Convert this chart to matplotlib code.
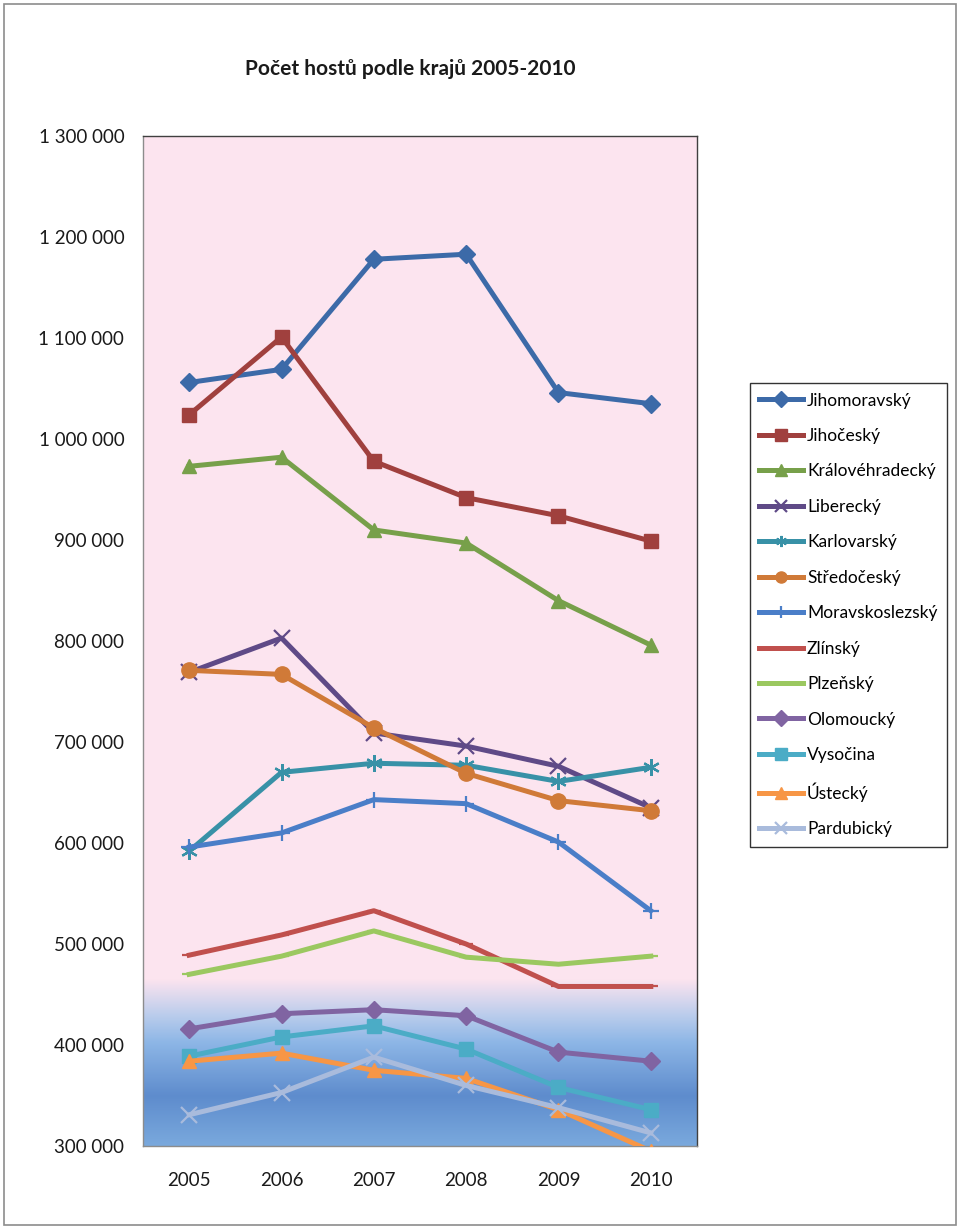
import numpy as np
import matplotlib.pyplot as plt
from matplotlib.colors import LinearSegmentedColormap
from matplotlib.patches import Rectangle
from matplotlib.ticker import FuncFormatter, MultipleLocator

plt.rcParams['font.family'] = ['Lato', 'DejaVu Sans']

# data
years = ['2005', '2006', '2007', '2008', '2009', '2010']
regions = ['Jihomoravský', 'Jihočeský', 'Královéhradecký', 'Liberecký', 'Karlovarský',
           'Středočeský', 'Moravskoslezský', 'Zlínský', 'Plzeňský', 'Olomoucký',
           'Vysočina', 'Ústecký', 'Pardubický']
jihomoravsky = [1056000, 1069000, 1178000, 1183000, 1046000, 1035000]
jihocesky = [1024000, 1101000, 978000, 942000, 924000, 899000]
kralovehradecky = [973000, 982000, 910000, 897000, 840000, 796000]
liberecky = [769000, 803000, 709000, 696000, 676000, 635000]
karlovarsky = [592000, 670000, 679000, 677000, 661000, 675000]
stredocesky = [771000, 767000, 714000, 669000, 642000, 632000]
moravskoslezsky = [596000, 610000, 643000, 639000, 601000, 533000]
zlinsky = [489000, 509000, 533000, 500000, 458000, 458000]
plzensky = [470000, 488000, 513000, 487000, 480000, 488000]
olomoucky = [416000, 431000, 435000, 429000, 393000, 384000]
vysocina = [389000, 408000, 419000, 396000, 358000, 336000]
ustecky = [384000, 392000, 375000, 367000, 336000, 295000]
pardubicky = [331000, 353000, 388000, 360000, 338000, 313000]

series = [jihomoravsky, jihocesky, kralovehradecky, liberecky, karlovarsky, stredocesky,
          moravskoslezsky, zlinsky, plzensky, olomoucky, vysocina, ustecky, pardubicky]
colors = ['#3C6AA8', '#A0403E', '#77A04A', '#5F4A87', '#3891A7', '#D07A38',
          '#4A7EC8', '#C0504D', '#9BC860', '#8064A2', '#4BACC6', '#F79646', '#A9BBDC']
markers = ['D', 's', '^', 'x', (6, 2, 0), 'o', '+', '_', '_', 'D', 's', '^', 'x']
sizes = [9, 10, 10, 11, 12, 11, 12, 10, 10, 9, 10, 10, 11]

fig = plt.figure(figsize=(9.6, 12.29), dpi=100)
fig.patches.append(Rectangle((0.004, 0.003), 0.992, 0.994, transform=fig.transFigure,
                             fill=False, edgecolor='#8C8C8C', linewidth=1.2))
ax = fig.add_axes([0.149, 0.0675, 0.577, 0.8218])

# background: pink with blue gradient at bottom
grad_cmap = LinearSegmentedColormap.from_list('bg', [
    (0.0, '#7AA9DD'), (0.3, '#5E8CCD'), (0.62, '#8DB6E6'),
    (0.78, '#B9CCEC'), (1.0, '#FCE4EF')])
grad = np.linspace(0, 1, 256).reshape(-1, 1)
ax.set_facecolor('#FCE4EF')
ax.imshow(grad, cmap=grad_cmap, aspect='auto', origin='lower',
          extent=[-0.5, 5.5, 300000, 465000], zorder=0)

x = np.arange(len(years))
for name, vals, c, m, s in zip(regions, series, colors, markers, sizes):
    mew = 1.6 if m in ('x', '+', '_') or isinstance(m, tuple) else 1
    ax.plot(x, vals, color=c, linewidth=3.6, marker=m, markersize=s,
            markeredgecolor=c, markerfacecolor=c, markeredgewidth=mew,
            label=name, zorder=3)

ax.set_xlim(-0.5, 5.5)
ax.set_ylim(300000, 1300000)
ax.set_xticks(x)
ax.set_xticklabels(years)
ax.yaxis.set_major_locator(MultipleLocator(100000))
ax.yaxis.set_major_formatter(FuncFormatter(lambda v, p: f'{int(v):,}'.replace(',', ' ')))
ax.tick_params(length=0, labelsize=13.5, colors='#1A1A1A')
ax.tick_params(axis='y', pad=13.5)
ax.tick_params(axis='x', pad=19)
for sp in ax.spines.values():
    sp.set_color('#404040')
    sp.set_linewidth(1.0)
ax.spines['left'].set_color('#8C8C8C')
ax.spines['bottom'].set_color('#8C8C8C')

fig.text(0.427, 0.944, 'Počet hostů podle krajů 2005-2010', ha='center', va='center',
         fontsize=15, fontweight='bold', color='#1A1A1A')

leg = fig.legend(loc='upper left', bbox_to_anchor=(0.781, 0.6884), fontsize=12.5,
                 frameon=True, fancybox=False, edgecolor='black', handlelength=2.5,
                 labelspacing=1.12, borderpad=0.55, handletextpad=0.25, borderaxespad=0)
leg.get_frame().set_linewidth(1.0)
for h in leg.legend_handles:
    h.set_linewidth(3.6)
    h.set_markersize(8)

fig.savefig('out.png', dpi=100)
